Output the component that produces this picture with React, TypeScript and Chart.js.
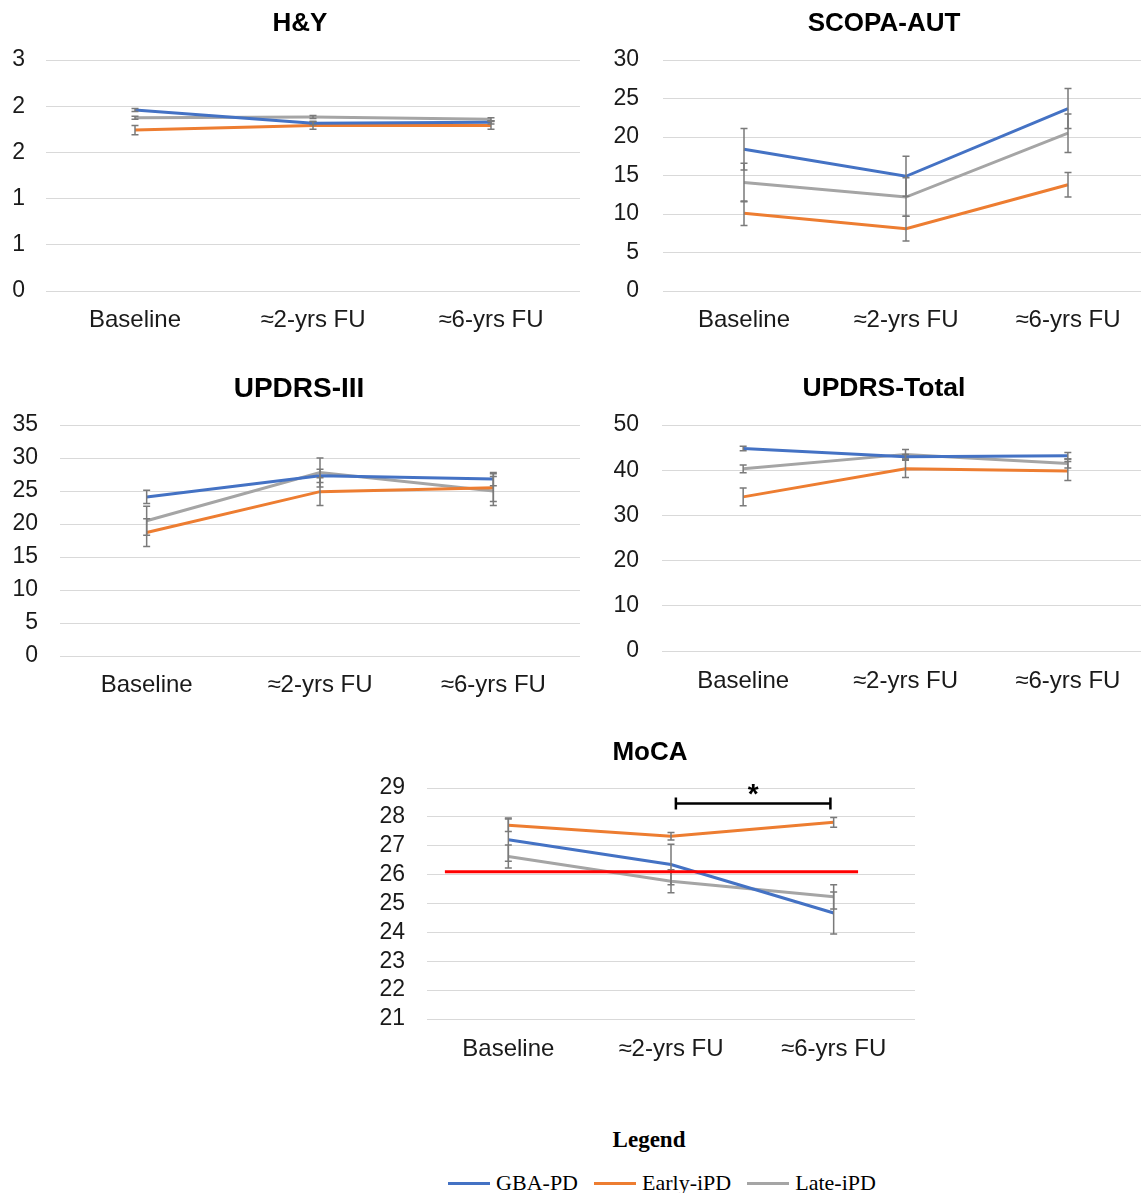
import React, { useEffect, useRef } from "react";
import { Chart, registerables } from "chart.js";

Chart.register(...registerables);

// ---------- data ----------
const timepoints = ["Baseline", "≈2-yrs FU", "≈6-yrs FU"];
const seriesNames = ["GBA-PD", "Early-iPD", "Late-iPD"];
const seriesColors = ["#4472C4", "#ED7D31", "#A5A5A5"];

// H&Y
const hyGBA = [2.35, 2.18, 2.19];
const hyEarly = [2.09, 2.15, 2.15];
const hyLate = [2.25, 2.26, 2.23];
const hyGBAErr = [0.02, 0.02, 0.02];
const hyEarlyErr = [0.06, 0.05, 0.05];
const hyLateErr = [0.02, 0.02, 0.02];
const hyTickLabels = ["0", "1", "1", "2", "2", "3"];

// SCOPA-AUT
const scopaGBA = [18.4, 14.9, 23.7];
const scopaEarly = [10.1, 8.1, 13.8];
const scopaLate = [14.1, 12.2, 20.5];
const scopaGBAErr = [2.7, 2.6, 2.6];
const scopaEarlyErr = [1.6, 1.6, 1.6];
const scopaLateErr = [2.5, 2.5, 2.5];

// UPDRS-III
const u3GBA = [24.1, 27.3, 26.8];
const u3Early = [18.7, 24.9, 25.5];
const u3Late = [20.5, 27.8, 25.0];
const u3GBAErr = [1.0, 1.0, 1.0];
const u3EarlyErr = [2.1, 2.1, 2.1];
const u3LateErr = [2.2, 2.2, 2.2];

// UPDRS-Total
const utGBA = [44.8, 43.0, 43.2];
const utEarly = [34.1, 40.3, 39.8];
const utLate = [40.3, 43.5, 41.5];
const utGBAErr = [0.5, 0.5, 0.7];
const utEarlyErr = [1.95, 1.9, 2.1];
const utLateErr = [0.85, 1.1, 1.0];

// MoCA
const mocaGBA = [27.21, 26.35, 24.67];
const mocaEarly = [27.71, 27.33, 27.81];
const mocaLate = [26.63, 25.77, 25.23];
const mocaGBAErr = [0.75, 0.7, 0.73];
const mocaEarlyErr = [0.22, 0.13, 0.17];
const mocaLateErr = [0.4, 0.4, 0.42];
const mocaCutoff = 26.1;
const mocaCutoffSpan = [-0.39, 2.15]; // in category units
const mocaSigSpan = [1.03, 1.98];
const mocaSigLevel = 28.46;
const mocaStarLevel = 29.03;
const mocaSigLabel = "*";

// ---------- styles / layout ----------
const FONT = "'Liberation Sans', Arial, Helvetica, sans-serif";
const SERIF = "'Liberation Serif', 'Times New Roman', serif";
const GRID = "#d9d9d9";
const ERR_COLOR = "#7a7a7a";

type Panel = {
  title: string;
  titleX: number;
  titleY: number;
  titleSize: number;
  series: number[][];
  errors: number[][];
  min: number;
  max: number;
  step: number;
  tickLabels?: string[];
  box: { left: number; top: number; width: number; height: number };
  yAxisWidth: number;
  padTop: number;
  padRight: number;
  xAxisHeight: number;
  yTickPad: number;
  xTickPad: number;
  moca?: boolean;
};

const panels: Panel[] = [
  {
    title: "H&Y", titleX: 300, titleY: 22, titleSize: 26,
    series: [hyGBA, hyEarly, hyLate], errors: [hyGBAErr, hyEarlyErr, hyLateErr],
    min: 0, max: 3, step: 0.6, tickLabels: hyTickLabels,
    box: { left: 0, top: 0, width: 600, height: 345 },
    yAxisWidth: 46, padTop: 60, padRight: 20, xAxisHeight: 54, yTickPad: 21, xTickPad: 15,
  },
  {
    title: "SCOPA-AUT", titleX: 884, titleY: 22, titleSize: 26,
    series: [scopaGBA, scopaEarly, scopaLate], errors: [scopaGBAErr, scopaEarlyErr, scopaLateErr],
    min: 0, max: 30, step: 5,
    box: { left: 570, top: 0, width: 590, height: 345 },
    yAxisWidth: 93, padTop: 60, padRight: 11, xAxisHeight: 54, yTickPad: 24, xTickPad: 15,
  },
  {
    title: "UPDRS-III", titleX: 299, titleY: 388, titleSize: 28,
    series: [u3GBA, u3Early, u3Late], errors: [u3GBAErr, u3EarlyErr, u3LateErr],
    min: 0, max: 35, step: 5,
    box: { left: 0, top: 345, width: 600, height: 365 },
    yAxisWidth: 60, padTop: 80, padRight: 20, xAxisHeight: 54, yTickPad: 22, xTickPad: 15,
  },
  {
    title: "UPDRS-Total", titleX: 884, titleY: 387, titleSize: 26.5,
    series: [utGBA, utEarly, utLate], errors: [utGBAErr, utEarlyErr, utLateErr],
    min: 0, max: 50, step: 10,
    box: { left: 570, top: 345, width: 590, height: 365 },
    yAxisWidth: 92, padTop: 80, padRight: 11, xAxisHeight: 59, yTickPad: 23, xTickPad: 16,
  },
  {
    title: "MoCA", titleX: 650, titleY: 751, titleSize: 26,
    series: [mocaGBA, mocaEarly, mocaLate], errors: [mocaGBAErr, mocaEarlyErr, mocaLateErr],
    min: 21, max: 29, step: 1,
    box: { left: 360, top: 710, width: 580, height: 370 },
    yAxisWidth: 67, padTop: 78, padRight: 25, xAxisHeight: 61, yTickPad: 22, xTickPad: 16,
    moca: true,
  },
];

// ---------- plugins ----------
const errorBarPlugin = {
  id: "errorBars",
  afterDatasetsDraw(chart: any) {
    const { ctx, scales } = chart;
    const x = scales.x;
    const y = scales.y;
    chart.data.datasets.forEach((ds: any) => {
      const errs: number[] | undefined = ds.errors;
      if (!errs) return;
      ds.data.forEach((v: number, i: number) => {
        const px = x.getPixelForValue(i);
        const top = y.getPixelForValue(v + errs[i]);
        const bot = y.getPixelForValue(v - errs[i]);
        ctx.save();
        ctx.strokeStyle = ERR_COLOR;
        ctx.lineWidth = 1.5;
        ctx.beginPath();
        ctx.moveTo(px, top);
        ctx.lineTo(px, bot);
        ctx.moveTo(px - 3.5, top);
        ctx.lineTo(px + 3.5, top);
        ctx.moveTo(px - 3.5, bot);
        ctx.lineTo(px + 3.5, bot);
        ctx.stroke();
        ctx.restore();
      });
    });
  },
};

const mocaPlugin = {
  id: "mocaAnnotations",
  afterDatasetsDraw(chart: any) {
    if (!chart.options.plugins.mocaAnnotations?.enabled) return;
    const { ctx, scales } = chart;
    const x = scales.x;
    const y = scales.y;
    ctx.save();
    // cutoff line
    const cy = y.getPixelForValue(mocaCutoff);
    ctx.strokeStyle = "#FF0000";
    ctx.lineWidth = 3;
    ctx.beginPath();
    ctx.moveTo(x.getPixelForValue(mocaCutoffSpan[0]), cy);
    ctx.lineTo(x.getPixelForValue(mocaCutoffSpan[1]), cy);
    ctx.stroke();
    // significance bracket
    const by = y.getPixelForValue(mocaSigLevel);
    const bx1 = x.getPixelForValue(mocaSigSpan[0]);
    const bx2 = x.getPixelForValue(mocaSigSpan[1]);
    ctx.strokeStyle = "#000000";
    ctx.lineWidth = 2.5;
    ctx.beginPath();
    ctx.moveTo(bx1, by);
    ctx.lineTo(bx2, by);
    ctx.moveTo(bx1, by - 6);
    ctx.lineTo(bx1, by + 6);
    ctx.moveTo(bx2, by - 6);
    ctx.lineTo(bx2, by + 6);
    ctx.stroke();
    // asterisk
    const sy = y.getPixelForValue(mocaStarLevel);
    const fs = 28;
    ctx.fillStyle = "#000000";
    ctx.font = `bold ${fs}px ${FONT}`;
    ctx.textAlign = "center";
    ctx.textBaseline = "alphabetic";
    ctx.fillText(mocaSigLabel, x.getPixelForValue((mocaSigSpan[0] + mocaSigSpan[1]) / 2), sy + 0.57 * fs);
    ctx.restore();
  },
};

function PanelChart({ p }: { p: Panel }) {
  const ref = useRef<HTMLCanvasElement | null>(null);
  useEffect(() => {
    if (!ref.current) return;
    const chart = new Chart(ref.current, {
      type: "line",
      data: {
        labels: timepoints,
        datasets: p.series.map((s, i) => ({
          label: seriesNames[i],
          data: s,
          errors: p.errors[i],
          borderColor: seriesColors[i],
          backgroundColor: seriesColors[i],
          borderWidth: 3,
          pointRadius: 0,
          tension: 0,
          fill: false,
        })) as any,
      },
      options: {
        animation: false,
        responsive: false,
        devicePixelRatio: 1,
        layout: { padding: { top: p.padTop, right: p.padRight, left: 0, bottom: 0 } },
        plugins: {
          legend: { display: false },
          tooltip: { enabled: false },
          title: { display: false },
          mocaAnnotations: { enabled: !!p.moca },
        } as any,
        scales: {
          x: {
            type: "category",
            offset: true,
            grid: { display: false, drawTicks: false },
            border: { display: false },
            ticks: {
              color: "#1a1a1a",
              font: { family: FONT, size: 24 },
              padding: p.xTickPad,
              maxRotation: 0,
              autoSkip: false,
            },
            afterFit: (scale: any) => {
              scale.height = p.xAxisHeight;
            },
          },
          y: {
            type: "linear",
            min: p.min,
            max: p.max,
            grid: { color: GRID, lineWidth: 1, drawTicks: false },
            border: { display: false },
            ticks: {
              stepSize: p.step,
              autoSkip: false,
              color: "#1a1a1a",
              font: { family: FONT, size: 23 },
              padding: p.yTickPad,
              callback: (v: any, idx: number) =>
                p.tickLabels ? p.tickLabels[idx] : String(Math.round(Number(v))),
            },
            afterFit: (scale: any) => {
              scale.width = p.yAxisWidth;
            },
          },
        },
      } as any,
      plugins: [errorBarPlugin, mocaPlugin],
    });
    return () => chart.destroy();
  }, [p]);
  return (
    <canvas
      ref={ref}
      width={p.box.width}
      height={p.box.height}
      style={{
        position: "absolute",
        left: p.box.left,
        top: p.box.top,
        width: p.box.width,
        height: p.box.height,
      }}
    />
  );
}

export default function App() {
  return (
    <div
      style={{
        position: "absolute",
        left: 0,
        top: 0,
        width: 1141,
        height: 1193,
        overflow: "hidden",
        background: "#ffffff",
      }}
    >
      {panels.map((p, i) => (
        <PanelChart key={i} p={p} />
      ))}
      {panels.map((p, i) => (
        <div
          key={"t" + i}
          style={{
            position: "absolute",
            left: p.titleX - 200,
            top: p.titleY - 15,
            width: 400,
            textAlign: "center",
            font: `bold ${p.titleSize}px ${FONT}`,
            lineHeight: "30px",
            color: "#000",
          }}
        >
          {p.title}
        </div>
      ))}
      <div
        style={{
          position: "absolute",
          left: 449,
          top: 1126,
          width: 400,
          textAlign: "center",
          font: `bold 23px ${SERIF}`,
          lineHeight: "28px",
          color: "#000",
        }}
      >
        Legend
      </div>
      <div
        style={{
          position: "absolute",
          left: 362,
          top: 1169,
          width: 600,
          display: "flex",
          justifyContent: "center",
          alignItems: "center",
          font: `22px ${SERIF}`,
          lineHeight: "28px",
          color: "#000",
        }}
      >
        {seriesNames.map((n, i) => (
          <div key={n} style={{ display: "flex", alignItems: "center", marginLeft: i === 0 ? 0 : 16 }}>
            <span
              style={{
                display: "inline-block",
                width: 42,
                height: 3,
                background: seriesColors[i],
                marginRight: 6,
              }}
            />
            <span>{n}</span>
          </div>
        ))}
      </div>
    </div>
  );
}
